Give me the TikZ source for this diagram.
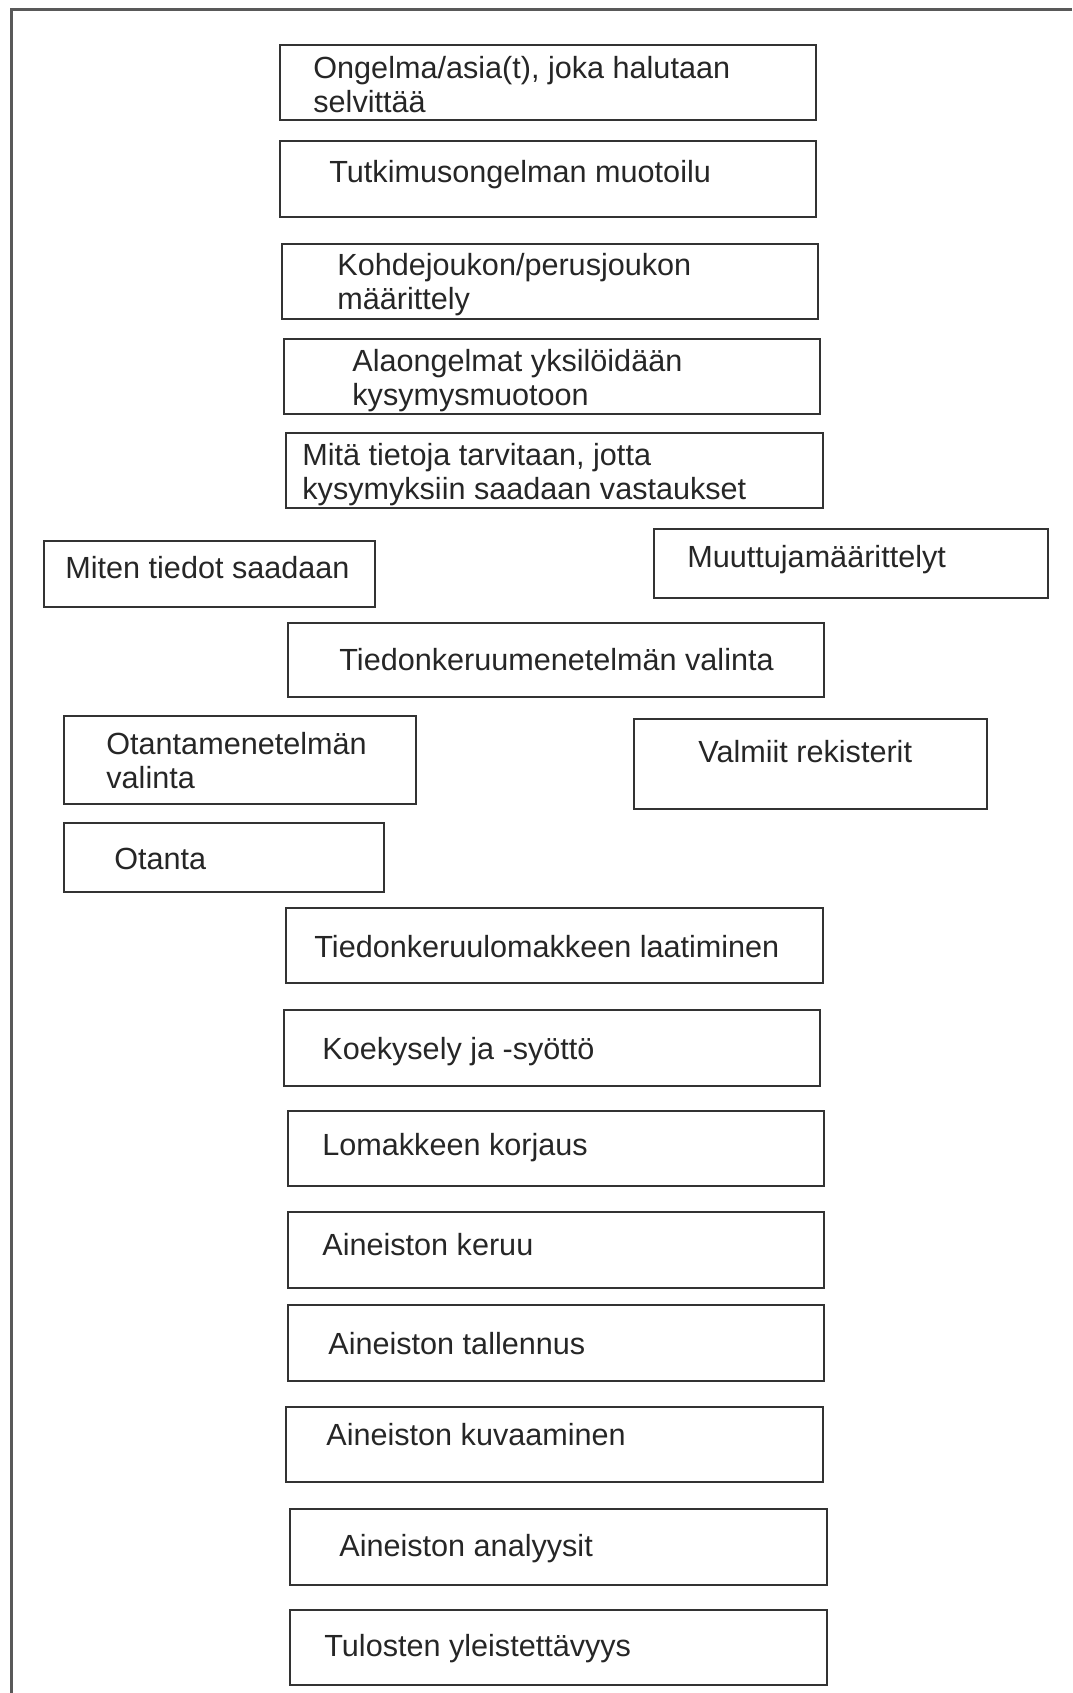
\documentclass[tikz,border=0pt]{standalone}
\usepackage{fontspec}
\setmainfont{Liberation Sans}
\usetikzlibrary{positioning}

\begin{document}
\begin{tikzpicture}[x=0.5pt, y=-0.5pt,
    stepbox/.style={draw=black!80, line width=1pt, anchor=north west, inner sep=0pt},
    lbl/.style={anchor=base west, align=left, inner sep=0pt, text=black!85,
        font=\fontsize{15.3}{17.3}\selectfont},
    frame/.style={draw=black!65, line width=1.5pt}]

    \useasboundingbox (0,0) rectangle (1072,1693);
    \draw[frame] (1072,9) -- (11,9) -- (11,1693);

    % main column (two-line labels sit on their last baseline)
    \node[stepbox, minimum width=268pt, minimum height=37.5pt] (b1) at (279,44) {};
    \node[lbl] (t1) at (313,112.6) {Ongelma/asia(t), joka halutaan\\selvittää};
    \node[stepbox, minimum width=268pt, minimum height=38pt] (b2) at (279,140) {};
    \node[lbl] (t2) at (329,182) {Tutkimusongelman muotoilu};
    \node[stepbox, minimum width=268pt, minimum height=37.5pt] (b3) at (281,243) {};
    \node[lbl] (t3) at (337,309.6) {Kohdejoukon/perusjoukon\\määrittely};
    \node[stepbox, minimum width=268pt, minimum height=37.5pt] (b4) at (283,338) {};
    \node[lbl] (t4) at (352,405.6) {Alaongelmat yksilöidään\\kysymysmuotoon};
    \node[stepbox, minimum width=268.5pt, minimum height=37.5pt] (b5) at (285,432) {};
    \node[lbl] (t5) at (302,499.6) {Mitä tietoja tarvitaan, jotta\\kysymyksiin saadaan vastaukset};

    % side boxes
    \node[stepbox, minimum width=165.5pt, minimum height=33pt] (b6) at (43,540) {};
    \node[lbl] (t6) at (65,578) {Miten tiedot saadaan};
    \node[stepbox, minimum width=197pt, minimum height=34.5pt] (b7) at (653,528) {};
    \node[lbl] (t7) at (687,567) {Muuttujamäärittelyt};
    \node[stepbox, minimum width=268pt, minimum height=37pt] (b8) at (287,622) {};
    \node[lbl] (t8) at (339,670) {Tiedonkeruumenetelmän valinta};
    \node[stepbox, minimum width=176pt, minimum height=44pt] (b9) at (63,715) {};
    \node[lbl] (t9) at (106,788.6) {Otantamenetelmän\\valinta};
    \node[stepbox, minimum width=176.5pt, minimum height=45pt] (b10) at (633,718) {};
    \node[lbl] (t10) at (698,762) {Valmiit rekisterit};
    \node[stepbox, minimum width=160pt, minimum height=34.5pt] (b11) at (63,822) {};
    \node[lbl] (t11) at (114,869) {Otanta};

    % lower column
    \node[stepbox, minimum width=268.5pt, minimum height=37.5pt] (b12) at (285,907) {};
    \node[lbl] (t12) at (314,957) {Tiedonkeruulomakkeen laatiminen};
    \node[stepbox, minimum width=268pt, minimum height=38pt] (b13) at (283,1009) {};
    \node[lbl] (t13) at (322,1059) {Koekysely ja -syöttö};
    \node[stepbox, minimum width=268pt, minimum height=37.5pt] (b14) at (287,1110) {};
    \node[lbl] (t14) at (322,1155) {Lomakkeen korjaus};
    \node[stepbox, minimum width=268pt, minimum height=38pt] (b15) at (287,1211) {};
    \node[lbl] (t15) at (322,1255) {Aineiston keruu};
    \node[stepbox, minimum width=268pt, minimum height=38pt] (b16) at (287,1304) {};
    \node[lbl] (t16) at (328,1354) {Aineiston tallennus};
    \node[stepbox, minimum width=268.5pt, minimum height=37.5pt] (b17) at (285,1406) {};
    \node[lbl] (t17) at (326,1445) {Aineiston kuvaaminen};
    \node[stepbox, minimum width=268.5pt, minimum height=38pt] (b18) at (289,1508) {};
    \node[lbl] (t18) at (339,1556) {Aineiston analyysit};
    \node[stepbox, minimum width=268.5pt, minimum height=37.5pt] (b19) at (289,1609) {};
    \node[lbl] (t19) at (324,1656) {Tulosten yleistettävyys};
\end{tikzpicture}
\end{document}
